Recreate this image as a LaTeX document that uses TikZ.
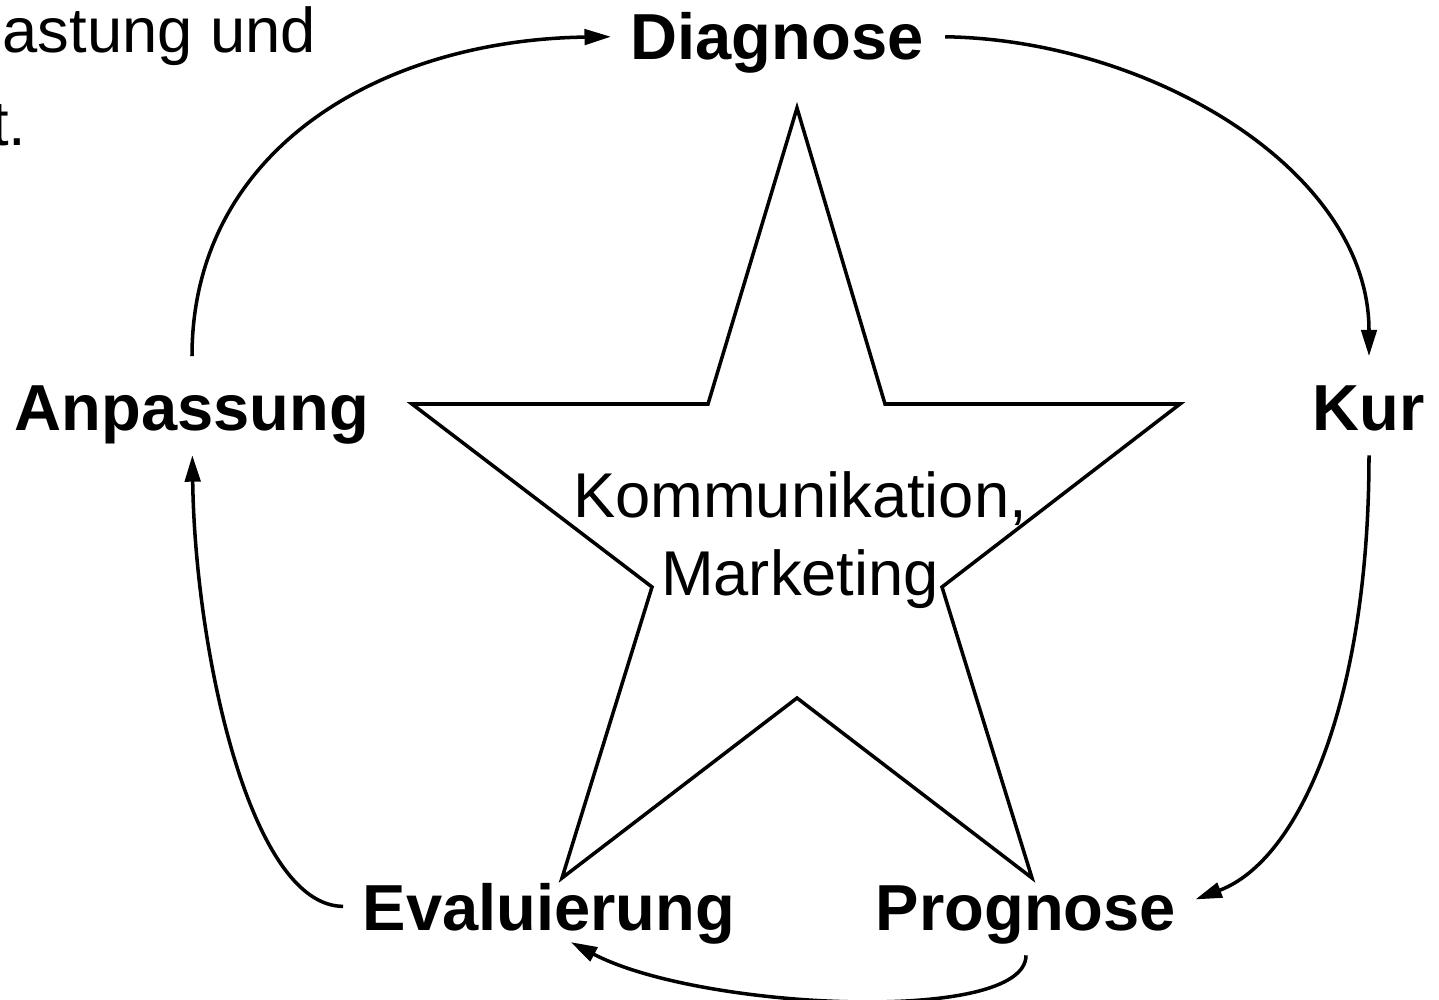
\documentclass[tikz,border=0pt]{standalone}
\usepackage{fontspec}
\setmainfont{Liberation Sans}
\usetikzlibrary{arrows.meta}

\tikzset{
  phase/.style={font=\bfseries\fontsize{18.5}{22}\selectfont, inner sep=0pt, text height=13.4pt, text depth=0pt},
  textlbl/.style={font=\fontsize{18}{22.2}\selectfont, inner sep=0pt},
  flow/.style={line width=1pt, -{Triangle[length=7.5pt,width=4.4pt]}},
}

\begin{document}
\begin{tikzpicture}[x=0.01cm,y=-0.01cm]
  \useasboundingbox (0,0) rectangle (1439,1000);

  % Left-over text top left
  \node[textlbl,anchor=base west] (rest1) at (2,52) {astung und};
  \node[textlbl,anchor=base east] (rest2) at (27,145) {t.};

  % Draw star
  \draw[line width=1pt,line join=miter] (797,108) -- (885,404) -- (1180,404) -- (942,587)
    -- (1032,878) -- (797,698) -- (562,878) -- (652,587) -- (412,404) -- (708,404) -- cycle;

  % Text in the middle of the star
  \node[textlbl,align=center] (kom) at (800,540) {Kommunikation,\\Marketing};

  % Phases of the cycle
  \node[phase,anchor=base] (diag) at (777,60)   {Diagnose};
  \node[phase,anchor=base] (kur)  at (1369,430) {Kur};
  \node[phase,anchor=base] (prog) at (1026,930) {Prognose};
  \node[phase,anchor=base] (eval) at (549,930)  {Evaluierung};
  \node[phase,anchor=base] (anp)  at (192,430)  {Anpassung};

  % Draw arrows round the cycle
  \draw[flow, shorten <=7.4pt, shorten >=5.4pt] (anp.north) .. controls (192,150) and (380,40) .. (diag.west);
  \draw[flow, shorten <=6pt, shorten >=7.4pt] (diag.east) .. controls (1150,40) and (1369,170) .. (kur.north);
  \draw[flow, shorten <=7pt, shorten >=5.7pt] (kur.south) .. controls (1369,700) and (1300,860) .. (prog.east);
  \draw[flow, shorten <=7pt, shorten >=7pt] (prog.south) .. controls (1026,1025) and (700,1010) .. (eval.south);
  \draw[flow, shorten <=5.4pt, shorten >=7pt] (eval.west) .. controls (250,906) and (195,650) .. (anp.south);
\end{tikzpicture}
\end{document}
